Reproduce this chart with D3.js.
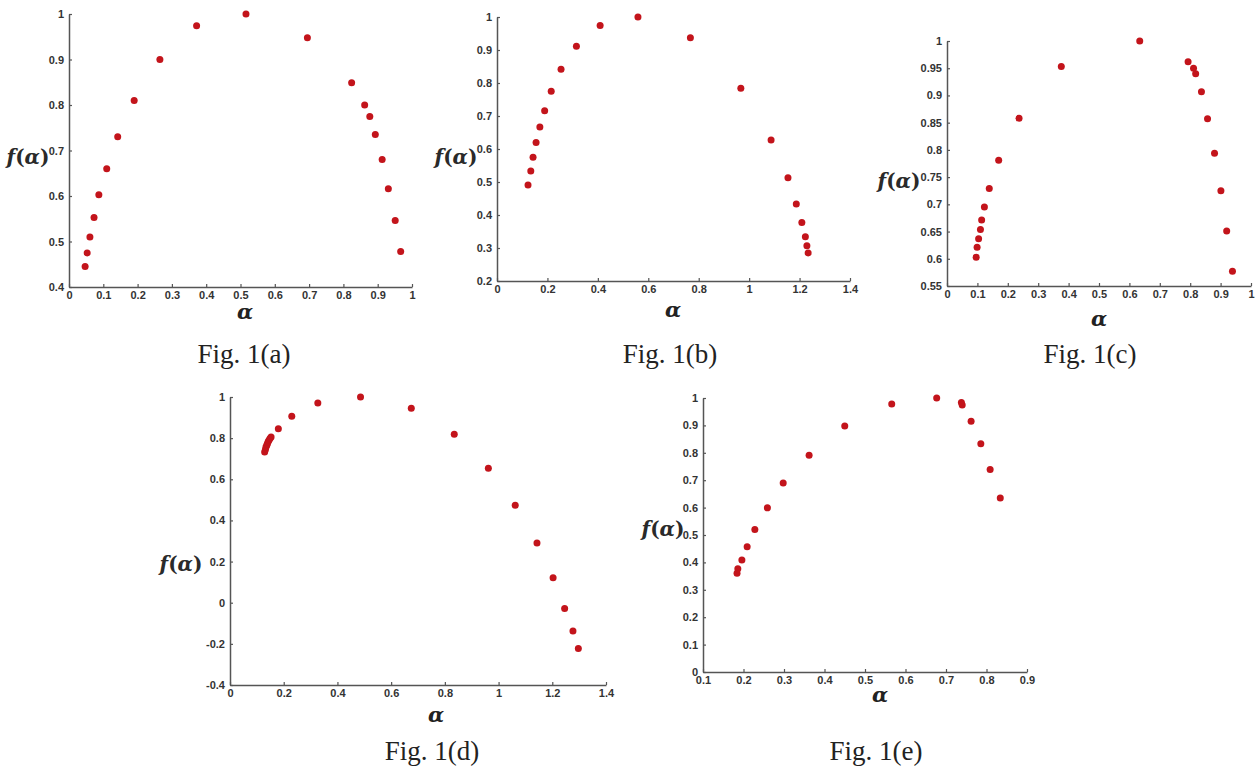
<!DOCTYPE html>
<html>
<head>
<meta charset="utf-8">
<script src="https://cdn.jsdelivr.net/npm/d3@7"></script>
<style>
  body { margin: 0; background: #fff; }
  .tick text { font-family: "Liberation Sans Narrow", "Liberation Sans", Arial, sans-serif; font-size: 11px; font-weight: bold; fill: #333; }
  .domain { stroke: #555; stroke-width: 1.5; }
  .tick line { stroke: #555; stroke-width: 1.2; }
  .flab { font-family: "DejaVu Serif", serif; font-size: 20px; font-weight: bold; fill: #2a2a2a; }
  .flab .it { font-style: italic; }
  .alab { font-family: "DejaVu Serif", serif; font-style: italic; font-weight: bold; font-size: 21px; fill: #222; }
  .cap { font-family: "Liberation Serif", "Times New Roman", serif; font-size: 27px; fill: #222; }
</style>
</head>
<body>
<div id="chart"></div>
<script>
// ---- data ----
// Fig. 1(a)
var alphaA = [0.047,0.053,0.061,0.073,0.087,0.110,0.142,0.190,0.265,0.372,0.516,0.695,0.824,0.862,0.877,0.893,0.913,0.931,0.951,0.967];
var fA     = [0.445,0.475,0.510,0.553,0.603,0.660,0.730,0.810,0.900,0.974,1.000,0.948,0.849,0.800,0.775,0.735,0.680,0.616,0.546,0.478];
var xTicksA = [0,0.1,0.2,0.3,0.4,0.5,0.6,0.7,0.8,0.9,1];
var yTicksA = [0.4,0.5,0.6,0.7,0.8,0.9,1];

// Fig. 1(b)
var alphaB = [0.123,0.134,0.143,0.155,0.170,0.189,0.215,0.254,0.315,0.409,0.559,0.767,0.967,1.087,1.154,1.187,1.209,1.223,1.229,1.234];
var fB     = [0.491,0.533,0.575,0.620,0.667,0.716,0.775,0.842,0.911,0.974,1.000,0.937,0.784,0.627,0.513,0.433,0.377,0.334,0.307,0.285];
var xTicksB = [0,0.2,0.4,0.6,0.8,1,1.2,1.4];
var yTicksB = [0.2,0.3,0.4,0.5,0.6,0.7,0.8,0.9,1];

// Fig. 1(c)
var alphaC = [0.096,0.099,0.104,0.110,0.114,0.123,0.139,0.170,0.237,0.376,0.634,0.793,0.811,0.818,0.837,0.857,0.880,0.901,0.920,0.939];
var fC     = [0.603,0.621,0.637,0.654,0.671,0.695,0.729,0.781,0.858,0.953,1.000,0.962,0.950,0.940,0.907,0.857,0.794,0.725,0.651,0.577];
var xTicksC = [0,0.1,0.2,0.3,0.4,0.5,0.6,0.7,0.8,0.9,1];
var yTicksC = [0.55,0.6,0.65,0.7,0.75,0.8,0.85,0.9,0.95,1];

// Fig. 1(d)
var alphaD = [0.129,0.132,0.134,0.137,0.139,0.142,0.145,0.149,0.153,0.180,0.230,0.327,0.486,0.675,0.835,0.962,1.062,1.143,1.203,1.246,1.277,1.297];
var fD     = [0.733,0.745,0.757,0.765,0.773,0.782,0.790,0.798,0.806,0.846,0.906,0.971,1.000,0.945,0.819,0.654,0.474,0.290,0.121,-0.028,-0.138,-0.222];
var xTicksD = [0,0.2,0.4,0.6,0.8,1,1.2,1.4];
var yTicksD = [-0.4,-0.2,0,0.2,0.4,0.6,0.8,1];

// Fig. 1(e)
var alphaE = [0.184,0.186,0.196,0.209,0.228,0.259,0.298,0.362,0.450,0.566,0.677,0.738,0.740,0.762,0.786,0.809,0.834];
var fE     = [0.360,0.377,0.409,0.457,0.520,0.599,0.690,0.791,0.898,0.978,1.000,0.984,0.974,0.915,0.833,0.739,0.635];
var xTicksE = [0.1,0.2,0.3,0.4,0.5,0.6,0.7,0.8,0.9];
var yTicksE = [0,0.1,0.2,0.3,0.4,0.5,0.6,0.7,0.8,0.9,1];

var captions = ["Fig. 1(a)","Fig. 1(b)","Fig. 1(c)","Fig. 1(d)","Fig. 1(e)"];

// ---- layout of each small plot (pixel boxes) ----
var panels = [
  { a: alphaA, f: fA, xd: [0,1],     yd: [0.4,1],  xt: xTicksA, yt: yTicksA,
    box: [69,412,14,287],   flab: [28,164],  alab: [245,319], cap: [244,363] },
  { a: alphaB, f: fB, xd: [0,1.4],   yd: [0.2,1],  xt: xTicksB, yt: yTicksB,
    box: [497,850,17,281],  flab: [456,164], alab: [673,317], cap: [670,363] },
  { a: alphaC, f: fC, xd: [0,1],     yd: [0.55,1], xt: xTicksC, yt: yTicksC,
    box: [947,1251,41,286], flab: [899,188], alab: [1099,326], cap: [1090,363] },
  { a: alphaD, f: fD, xd: [0,1.4],   yd: [-0.4,1], xt: xTicksD, yt: yTicksD,
    box: [230,606,397,685], flab: [181,571], alab: [436,722], cap: [432,760] },
  { a: alphaE, f: fE, xd: [0.1,0.9], yd: [0,1],    xt: xTicksE, yt: yTicksE,
    box: [703,1027,398,672], flab: [663,536], alab: [880,702], cap: [876,760] }
];

var svg = d3.select("#chart").append("svg")
    .attr("width", 1255)
    .attr("height", 769);

function fmt(d) { return String(+d.toFixed(2)); }

panels.forEach(function(p, i) {
  var x = d3.scaleLinear().domain(p.xd).range([p.box[0], p.box[1]]);
  var y = d3.scaleLinear().domain(p.yd).range([p.box[3], p.box[2]]);
  var g = svg.append("g");

  g.append("g")
    .attr("transform", "translate(0," + p.box[3] + ")")
    .call(d3.axisBottom(x).tickValues(p.xt).tickFormat(fmt)
      .tickSizeInner(-3).tickSizeOuter(0).tickPadding(4));

  g.append("g")
    .attr("transform", "translate(" + p.box[0] + ",0)")
    .call(d3.axisLeft(y).tickValues(p.yt).tickFormat(fmt)
      .tickSizeInner(-3).tickSizeOuter(0).tickPadding(5));

  var pts = p.a.map(function(v, k) { return { a: v, f: p.f[k] }; });
  g.selectAll(".dot")
    .data(pts)
    .enter().append("circle")
    .attr("class", "dot")
    .attr("r", 3.5)
    .attr("cx", function(d) { return x(d.a); })
    .attr("cy", function(d) { return y(d.f); })
    .style("fill", "#c3141b");

  // f(α): italic letters, upright brackets
  var fl = g.append("text").attr("class", "flab")
    .attr("x", p.flab[0]).attr("y", p.flab[1])
    .attr("text-anchor", "middle");
  fl.append("tspan").attr("class", "it").text("f");
  fl.append("tspan").text("(");
  fl.append("tspan").attr("class", "it").text("\u03B1");
  fl.append("tspan").text(")");

  g.append("text").attr("class", "alab")
    .attr("x", p.alab[0]).attr("y", p.alab[1])
    .attr("text-anchor", "middle")
    .text("\u03B1");

  svg.append("text").attr("class", "cap")
    .attr("x", p.cap[0]).attr("y", p.cap[1])
    .attr("text-anchor", "middle")
    .text(captions[i]);
});
</script>
</body>
</html>
